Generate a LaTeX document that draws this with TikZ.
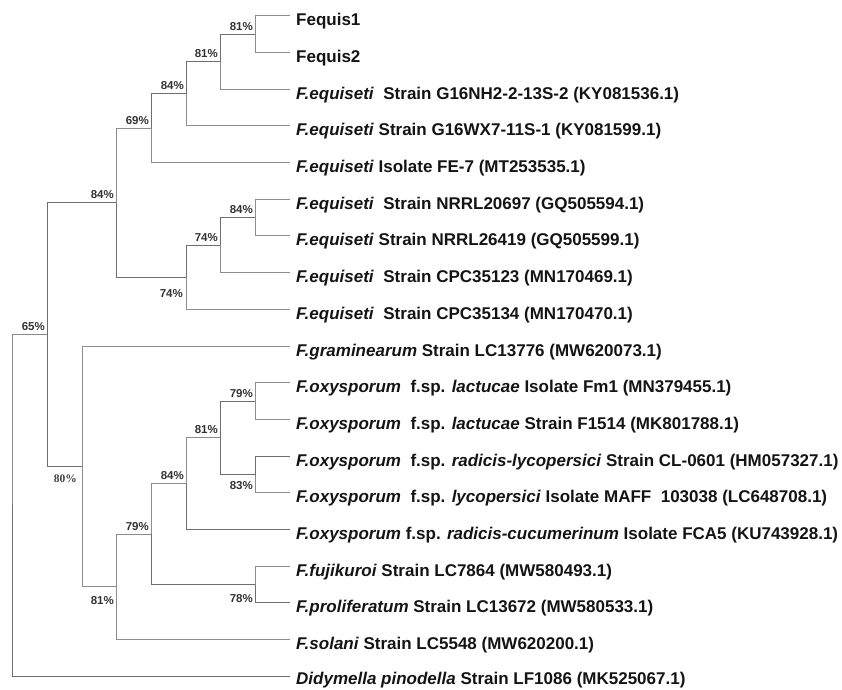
\documentclass[tikz,border=0pt]{standalone}
\usepackage{fontspec}
\setmainfont{Liberation Sans}
\newfontfamily\serifbs{Liberation Serif}
\definecolor{br}{HTML}{8C8C8C}
\definecolor{brd}{HTML}{6E6E6E}
\begin{document}
\begin{tikzpicture}[x=1pt,y=-1pt,
  branch/.style={draw=br, line width=1pt},
  dbranch/.style={draw=brd, line width=1pt},
  leaflab/.style={anchor=base west, inner sep=0pt, font=\fontsize{17}{20}\selectfont\bfseries, text=black!92},
  bsa/.style={anchor=base east, inner sep=0pt, font=\fontsize{11.5}{13}\selectfont\bfseries, text=black!80},
  bss/.style={anchor=base east, inner sep=0pt, font=\fontsize{11.5}{13}\serifbs\bfseries, text=black!75},
]
\useasboundingbox (0,0) rectangle (842,689);
% leaves
\foreach \i in {0,...,18}{
  \pgfmathsetmacro{\yy}{15.7+36.7*\i}
  \coordinate (L\i) at (290,\yy);
}
% internal nodes
\coordinate (n1) at (255,34.1);
\coordinate (n2) at (220,61.6);
\coordinate (n3) at (186,93.7);
\coordinate (n4) at (151,128.1);
\coordinate (n5) at (255,217.5);
\coordinate (n6) at (220,245.0);
\coordinate (n7) at (186,277.2);
\coordinate (n8) at (116,202.6);
\coordinate (n9) at (255,401.0);
\coordinate (n10) at (255,474.5);
\coordinate (n11) at (220,437.8);
\coordinate (n12) at (186,483.6);
\coordinate (n13) at (255,584.5);
\coordinate (n14) at (151,534.0);
\coordinate (n15) at (116,586.8);
\coordinate (n16) at (82,466.4);
\coordinate (n17) at (47,334.5);
\coordinate (root) at (12,505.4);
% branches
\draw[branch] (n1) |- (L0);
\draw[branch] (n1) |- (L1);
\draw[dbranch] (n2) |- (n1);
\draw[branch] (n2) |- (L2);
\draw[dbranch] (n3) |- (n2);
\draw[branch] (n3) |- (L3);
\draw[dbranch] (n4) |- (n3);
\draw[branch] (n4) |- (L4);
\draw[branch] (n5) |- (L5);
\draw[branch] (n5) |- (L6);
\draw[dbranch] (n6) |- (n5);
\draw[branch] (n6) |- (L7);
\draw[dbranch] (n7) |- (n6);
\draw[branch] (n7) |- (L8);
\draw[branch] (n8) |- (n4);
\draw[dbranch] (n8) |- (n7);
\draw[dbranch] (n17) |- (n8);
\draw[dbranch] (n17) |- (n16);
\draw[branch] (n16) |- (L9);
\draw[branch] (n16) |- (n15);
\draw[branch] (n15) |- (n14);
\draw[branch] (n15) |- (L17);
\draw[branch] (n14) |- (n12);
\draw[dbranch] (n14) |- (n13);
\draw[branch] (n12) |- (n11);
\draw[dbranch] (n12) |- (L14);
\draw[dbranch] (n11) |- (n9);
\draw[dbranch] (n11) |- (n10);
\draw[branch] (n9) |- (L10);
\draw[branch] (n9) |- (L11);
\draw[dbranch] (n10) |- (L12);
\draw[branch] (n10) |- (L13);
\draw[branch] (n13) |- (L15);
\draw[dbranch] (n13) |- (L16);
\draw[branch] (root) |- (n17);
\draw[dbranch] (root) |- (L18);
% bootstrap labels
\node[bsa] (b1) at ([xshift=-2pt,yshift=4pt]n1) {81\%};
\node[bsa] (b2) at ([xshift=-2pt,yshift=4pt]n2) {81\%};
\node[bsa] (b3) at ([xshift=-2pt,yshift=4pt]n3) {84\%};
\node[bsa] (b4) at ([xshift=-2pt,yshift=4pt]n4) {69\%};
\node[bsa] (b8) at ([xshift=-2pt,yshift=4pt]n8) {84\%};
\node[bsa] (b5) at ([xshift=-2pt,yshift=4pt]n5) {84\%};
\node[bsa] (b6) at ([xshift=-2pt,yshift=4pt]n6) {74\%};
\node[bsa] (b7) at ([xshift=-3pt,yshift=-20pt]n7) {74\%};
\node[bsa] (b17) at ([xshift=-2pt,yshift=4pt]n17) {65\%};
\node[bss] (b16) at ([xshift=-5pt,yshift=-16.5pt]n16) {80\%};
\node[bsa] (b15) at ([xshift=-2pt,yshift=-18pt]n15) {81\%};
\node[bsa] (b14) at ([xshift=-2pt,yshift=4pt]n14) {79\%};
\node[bsa] (b12) at ([xshift=-2pt,yshift=4pt]n12) {84\%};
\node[bsa] (b11) at ([xshift=-2pt,yshift=4pt]n11) {81\%};
\node[bsa] (b9) at ([xshift=-2pt,yshift=4pt]n9) {79\%};
\node[bsa] (b10) at ([xshift=-2pt,yshift=-14.5pt]n10) {83\%};
\node[bsa] (b13) at ([xshift=-2pt,yshift=-17.5pt]n13) {78\%};
% leaf labels
\node[leaflab] (T0) at ([xshift=6pt,yshift=-10pt]L0) {Fequis1};
\node[leaflab] (T1) at ([xshift=6pt,yshift=-10pt]L1) {Fequis2};
\node[leaflab] (T2) at ([xshift=6pt,yshift=-10pt]L2) {\textit{F.equiseti}\ \ Strain G16NH2-2-13S-2 (KY081536.1)};
\node[leaflab] (T3) at ([xshift=6pt,yshift=-10pt]L3) {\textit{F.equiseti} Strain G16WX7-11S-1 (KY081599.1)};
\node[leaflab] (T4) at ([xshift=6pt,yshift=-10pt]L4) {\textit{F.equiseti} Isolate FE-7 (MT253535.1)};
\node[leaflab] (T5) at ([xshift=6pt,yshift=-10pt]L5) {\textit{F.equiseti}\ \ Strain NRRL20697 (GQ505594.1)};
\node[leaflab] (T6) at ([xshift=6pt,yshift=-10pt]L6) {\textit{F.equiseti} Strain NRRL26419 (GQ505599.1)};
\node[leaflab] (T7) at ([xshift=6pt,yshift=-10pt]L7) {\textit{F.equiseti}\ \ Strain CPC35123 (MN170469.1)};
\node[leaflab] (T8) at ([xshift=6pt,yshift=-10pt]L8) {\textit{F.equiseti}\ \ Strain CPC35134 (MN170470.1)};
\node[leaflab] (T9) at ([xshift=6pt,yshift=-10pt]L9) {\textit{F.graminearum} Strain LC13776 (MW620073.1)};
\node[leaflab] (T10) at ([xshift=6pt,yshift=-10pt]L10) {\textit{F.oxysporum}\ \ f.sp. \textit{lactucae} Isolate Fm1 (MN379455.1)};
\node[leaflab] (T11) at ([xshift=6pt,yshift=-10pt]L11) {\textit{F.oxysporum}\ \ f.sp. \textit{lactucae} Strain F1514 (MK801788.1)};
\node[leaflab] (T12) at ([xshift=6pt,yshift=-10pt]L12) {\textit{F.oxysporum}\ \ f.sp. \textit{radicis-lycopersici} Strain CL-0601 (HM057327.1)};
\node[leaflab] (T13) at ([xshift=6pt,yshift=-10pt]L13) {\textit{F.oxysporum}\ \ f.sp. \textit{lycopersici} Isolate MAFF\ \ 103038 (LC648708.1)};
\node[leaflab] (T14) at ([xshift=6pt,yshift=-10pt]L14) {\textit{F.oxysporum} f.sp. \textit{radicis-cucumerinum} Isolate FCA5 (KU743928.1)};
\node[leaflab] (T15) at ([xshift=6pt,yshift=-10pt]L15) {\textit{F.fujikuroi} Strain LC7864 (MW580493.1)};
\node[leaflab] (T16) at ([xshift=6pt,yshift=-10pt]L16) {\textit{F.proliferatum} Strain LC13672 (MW580533.1)};
\node[leaflab] (T17) at ([xshift=6pt,yshift=-10pt]L17) {\textit{F.solani} Strain LC5548 (MW620200.1)};
\node[leaflab] (T18) at ([xshift=6pt,yshift=-8.5pt]L18) {\textit{Didymella pinodella} Strain LF1086 (MK525067.1)};
\end{tikzpicture}
\end{document}
